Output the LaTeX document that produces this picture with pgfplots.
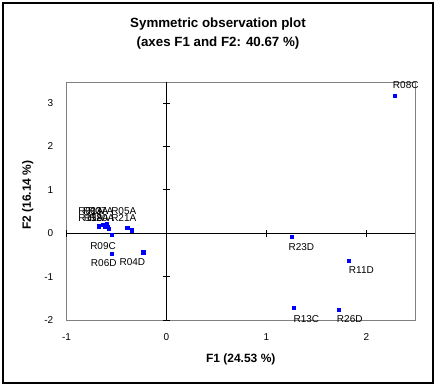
\documentclass[border=0pt]{standalone}
\usepackage{fontspec}
\setmainfont{Liberation Sans}
\usepackage{pgfplots}
\pgfplotsset{compat=1.18}
\definecolor{ptblue}{RGB}{0,0,255}
\definecolor{bordergray}{RGB}{128,128,128}
\pgfplotstableread{
x y
2.285 3.17
1.25 -0.08
1.825 -0.63
1.272 -1.71
1.722 -1.77
-0.55 -0.03
-0.545 -0.48
-0.232 -0.44
-0.675 0.16
-0.632 0.20
-0.615 0.15
-0.592 0.15
-0.578 0.10
-0.600 0.21
-0.393 0.125
-0.348 0.07
}\obsdata
\begin{document}
\begin{tikzpicture}
\path[use as bounding box] (0,0) rectangle (328.5pt,-289.5pt);
\draw[black, line width=0.9pt] (2.25pt,-2.25pt) rectangle (324.75pt,-287.25pt);
\node[anchor=base, inner sep=0pt, font=\bfseries\fontsize{10}{12}\selectfont] at (163.5pt,-20.6pt) {Symmetric observation plot};
\node[anchor=base, inner sep=0pt, font=\bfseries\fontsize{10}{12}\selectfont] at (163.5pt,-34.5pt) {(axes F1 and F2: 40.67 \%)};
\begin{axis}[
  at={(49.875pt,-240pt)}, anchor=south west,
  scale only axis, width=261.375pt, height=178.125pt,
  xmin=-1, xmax=2.485, ymin=-2, ymax=3.475,
  axis line style={bordergray, line width=0.6pt},
  xtick={-1,0,1,2}, ytick={-2,-1,0,1,2,3},
  major tick length=0pt,
  tick label style={font=\fontsize{7.5}{9}\selectfont},
  /pgf/number format/assume math mode=true,
  xticklabel shift=6.4pt, yticklabel shift=6.4pt,
  xlabel={F1 (24.53 \%)}, ylabel={F2 (16.14 \%)},
  label style={font=\bfseries\fontsize{9}{11}\selectfont, inner sep=0pt},
  xlabel style={at={(axis description cs:0.5,-0.181)}, anchor=base},
  ylabel style={at={(axis description cs:-0.102,0.526)}, anchor=base},
]
\end{axis}
\begin{axis}[
  at={(49.875pt,-240pt)}, anchor=south west,
  scale only axis, width=261.375pt, height=178.125pt,
  xmin=-1, xmax=2.485, ymin=-2, ymax=3.475,
  axis lines=middle,
  axis line style={-, black, line width=0.6pt},
  xtick={-1,1,2}, ytick={-2,-1,1,2,3},
  xticklabels={}, yticklabels={},
  tick align=center, major tick length=5.25pt,
  tick style={black, line width=0.6pt},
  clip=false,
]
\addplot[only marks, mark=square*, mark size=1.2pt, mark options={draw=ptblue, fill=ptblue}] table {\obsdata};
\tikzset{lbl/.style={anchor=base west, inner sep=0pt, font=\fontsize{7.5}{9}\selectfont}}
\node[lbl] at (axis cs:2.262,3.333) {R08C};
\node[lbl] at (axis cs:1.218,-0.402) {R23D};
\node[lbl] at (axis cs:1.822,-0.924) {R11D};
\node[lbl] at (axis cs:1.268,-2.048) {R13C};
\node[lbl] at (axis cs:1.702,-2.065) {R26D};
\node[lbl] at (axis cs:-0.765,-0.370) {R09C};
\node[lbl] at (axis cs:-0.758,-0.771) {R06D};
\node[lbl] at (axis cs:-0.472,-0.755) {R04D};
\node[lbl] at (axis cs:-0.885,0.430) {R01A};
\node[lbl] at (axis cs:-0.835,0.430) {R03A};
\node[lbl] at (axis cs:-0.785,0.430) {R07A};
\node[lbl] at (axis cs:-0.555,0.430) {R05A};
\node[lbl] at (axis cs:-0.885,0.261) {R15A};
\node[lbl] at (axis cs:-0.830,0.261) {R18A};
\node[lbl] at (axis cs:-0.775,0.261) {R20A};
\node[lbl] at (axis cs:-0.555,0.261) {R21A};
\end{axis}
\end{tikzpicture}
\end{document}
